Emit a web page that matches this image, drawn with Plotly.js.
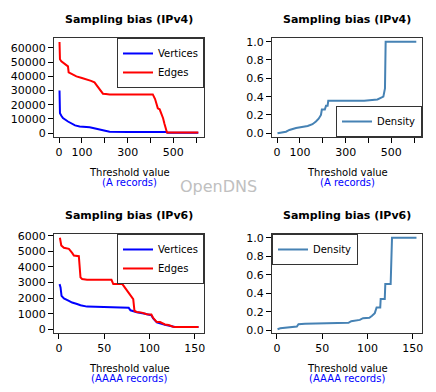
<!DOCTYPE html>
<html>
<head>
<meta charset="utf-8">
<script src="https://cdn.plot.ly/plotly-3.0.1.min.js"></script>
<style>
  html, body { margin: 0; padding: 0; background: #fff; }
  #graf { width: 436px; height: 392px; }
</style>
</head>
<body>
<div id="graf"></div>
<script>
// IPv4 (A records)
var v4EdgesX = [2, 4, 10, 20, 39, 42, 60, 76, 100, 119, 140, 155, 170, 180, 192, 205, 221, 300, 410, 420, 432, 440, 450, 455, 461, 468, 472, 480, 540, 609];
var v4EdgesY = [64200, 52000, 50500, 49400, 47000, 42800, 41000, 40000, 38800, 38100, 36800, 35800, 32500, 31000, 27800, 27600, 27300, 27300, 27300, 24000, 17500, 16800, 13000, 10500, 6600, 3000, 500, 500, 500, 500];
var v4VertX = [2, 4, 10, 17, 39, 54, 70, 90, 134, 163, 199, 221, 300, 468, 475, 609];
var v4VertY = [30100, 14100, 12300, 10600, 8200, 6600, 5500, 4700, 4200, 3100, 1650, 940, 900, 900, 300, 300];
var v4DensX = [2, 20, 39, 54, 83, 134, 155, 170, 182, 192, 196, 209, 214, 221, 224, 300, 381, 439, 465, 472, 475, 609];
var v4DensY = [0.0, 0.008, 0.018, 0.037, 0.059, 0.08, 0.10, 0.13, 0.16, 0.2, 0.26, 0.26, 0.30, 0.30, 0.355, 0.355, 0.355, 0.37, 0.40, 0.49, 1.0, 1.0];

// IPv6 (AAAA records)
var v6EdgesX = [1.1, 2.6, 5.5, 11, 14.6, 16.5, 22, 22.7, 23.8, 25.6, 31, 58, 60, 70, 74, 77, 80, 82, 83.4, 86, 91.5, 97, 102, 104, 108, 111.6, 117, 121, 126, 128, 154];
var v6EdgesY = [5870, 5376, 5226, 5160, 4900, 4730, 4690, 3870, 3330, 3225, 3180, 3180, 2900, 2900, 2580, 2260, 2040, 1935, 1180, 1120, 1075, 970, 950, 730, 470, 470, 320, 280, 170, 150, 150];
var v6VertX = [0.7, 1.8, 2.9, 5.5, 11, 14.6, 20, 23.8, 31, 57, 60, 77, 79, 82, 86, 95, 102, 104, 108, 117, 128, 154];
var v6VertY = [2900, 2690, 2150, 1980, 1830, 1720, 1630, 1550, 1460, 1440, 1400, 1380, 1225, 1160, 1100, 1000, 900, 700, 450, 300, 150, 150];
var v6DensX = [0.7, 3.7, 22, 23.8, 31, 79, 82, 86, 91.5, 95, 102, 105, 108, 110, 114, 114.5, 119, 119.6, 125.5, 127, 154];
var v6DensY = [0.011, 0.022, 0.04, 0.065, 0.069, 0.08, 0.098, 0.105, 0.112, 0.13, 0.134, 0.156, 0.185, 0.246, 0.246, 0.337, 0.337, 0.5, 0.5, 1.0, 1.0];

var blue = '#0000ff', red = '#ff0000', steel = '#4682b4';
var fnt = 'DejaVu Sans, Liberation Sans, sans-serif';

function ln(x, y, col, name, xa, ya, leg) {
    return {x: x, y: y, type: 'scatter', mode: 'lines', name: name,
        xaxis: xa, yaxis: ya, legend: leg,
        line: {color: col, width: 2}};
}

var data = [
    ln(v4VertX, v4VertY, blue, 'Vertices', 'x', 'y', 'legend'),
    ln(v4EdgesX, v4EdgesY, red, 'Edges', 'x', 'y', 'legend'),
    ln(v4DensX, v4DensY, steel, 'Density', 'x2', 'y2', 'legend2'),
    ln(v6VertX, v6VertY, blue, 'Vertices', 'x3', 'y3', 'legend3'),
    ln(v6EdgesX, v6EdgesY, red, 'Edges', 'x3', 'y3', 'legend3'),
    ln(v6DensX, v6DensY, steel, 'Density', 'x4', 'y4', 'legend4')
];

function ax(dom, rng, vals, txt, anchor) {
    return {domain: dom, range: rng, anchor: anchor,
        tickmode: 'array', tickvals: vals, ticktext: txt,
        ticks: 'outside', ticklen: 5, tickwidth: 1, tickcolor: '#000',
        showline: true, mirror: true, linecolor: '#333', linewidth: 1,
        showgrid: false, zeroline: false,
        tickfont: {family: fnt, size: 11, color: '#000'}};
}

var xL = [0.1239, 0.4679], xR = [0.6239, 0.9679];
var yT = [0.6505, 0.9031], yB = [0.1505, 0.4031];
var dens = [0, 0.2, 0.4, 0.6, 0.8, 1.0];
var densTxt = ['0.0', '0.2', '0.4', '0.6', '0.8', '1.0'];

function leg(x, y, xa, ya) {
    return {x: x, y: y, xanchor: xa, yanchor: ya, bgcolor: '#fff',
        bordercolor: '#333', borderwidth: 1, itemwidth: 30,
        font: {family: fnt, size: 10, color: '#000'}};
}

function note(text, x, y, size, col, bold) {
    return {text: bold ? '<b>' + text + '</b>' : text, x: x, y: y,
        xref: 'paper', yref: 'paper', xanchor: 'center', yanchor: 'middle',
        showarrow: false,
        font: {family: fnt, size: size, color: col}};
}

var layout = {
    width: 436, height: 392, autosize: false,
    margin: {l: 0, r: 0, t: 0, b: 0},
    paper_bgcolor: '#fff', plot_bgcolor: '#fff',
    xaxis: ax(xL, [-22, 634], [0, 100, 200, 300, 400, 500, 600], ['0', '100', '', '300', '', '500', ''], 'y'),
    yaxis: ax(yT, [-2700, 67000], [0, 10000, 20000, 30000, 40000, 50000, 60000], ['0', '10000', '20000', '30000', '40000', '50000', '60000'], 'x'),
    xaxis2: ax(xR, [-22, 634], [0, 100, 200, 300, 400, 500, 600], ['0', '100', '', '300', '', '500', ''], 'y2'),
    yaxis2: ax(yT, [-0.04, 1.04], dens, densTxt, 'x2'),
    xaxis3: ax(xL, [-5.4, 160.1], [0, 50, 100, 150], ['0', '50', '100', '150'], 'y3'),
    yaxis3: ax(yB, [-230, 6110], [0, 1000, 2000, 3000, 4000, 5000, 6000], ['0', '1000', '2000', '3000', '4000', '5000', '6000'], 'x3'),
    xaxis4: ax(xR, [-5.4, 160.1], [0, 50, 100, 150], ['0', '50', '100', '150'], 'y4'),
    yaxis4: ax(yB, [-0.03, 1.04], dens, densTxt, 'x4'),
    legend: leg(0.4679, 0.9031, 'right', 'top'),
    legend2: leg(0.9679, 0.6505, 'right', 'bottom'),
    legend3: leg(0.4679, 0.4031, 'right', 'top'),
    legend4: leg(0.6239, 0.4031, 'left', 'top'),
    annotations: [
        note('Sampling bias (IPv4)', 0.296, 0.9515, 11, '#000', true),
        note('Sampling bias (IPv4)', 0.796, 0.9515, 11, '#000', true),
        note('Sampling bias (IPv6)', 0.296, 0.4515, 11, '#000', true),
        note('Sampling bias (IPv6)', 0.796, 0.4515, 11, '#000', true),
        note('Threshold value', 0.296, 0.561, 10, '#000'),
        note('Threshold value', 0.796, 0.561, 10, '#000'),
        note('(A records)', 0.296, 0.5357, 10, '#0000ff'),
        note('(A records)', 0.796, 0.5357, 10, '#0000ff'),
        note('Threshold value', 0.296, 0.0612, 10, '#000'),
        note('Threshold value', 0.796, 0.0612, 10, '#000'),
        note('(AAAA records)', 0.296, 0.0357, 10, '#0000ff'),
        note('(AAAA records)', 0.796, 0.0357, 10, '#0000ff'),
        note('OpenDNS', 0.5, 0.5255, 16, '#c0c0c0')
    ]
};

Plotly.newPlot(document.getElementById('graf'), data, layout, {staticPlot: true});
</script>
</body>
</html>
